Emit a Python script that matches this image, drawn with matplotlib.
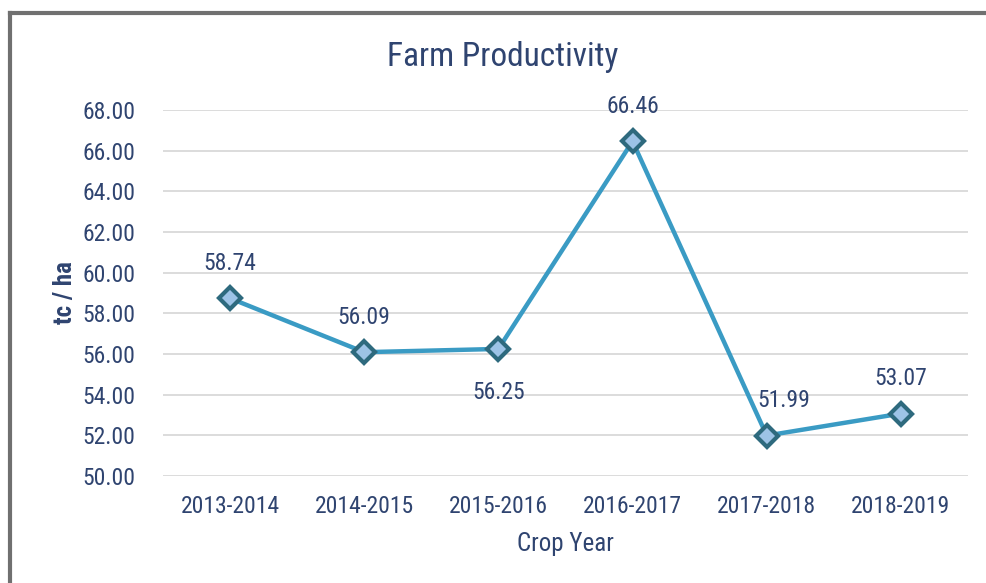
import matplotlib
matplotlib.use('Agg')
import matplotlib.pyplot as plt

years = ['2013-2014', '2014-2015', '2015-2016', '2016-2017', '2017-2018', '2018-2019']
productivity = [58.74, 56.09, 56.25, 66.46, 51.99, 53.07]
y_ticks = [50, 52, 54, 56, 58, 60, 62, 64, 66, 68]

plt.rcParams['font.family'] = ['Roboto Condensed', 'DejaVu Sans']

txt = '#2F4470'
line_c = '#3A9BC4'

fig = plt.figure(figsize=(9.86, 5.83), dpi=100)
ax = fig.add_axes([0.1653, 0.1835, 0.8164, 0.6278])

x = list(range(len(years)))
ax.plot(x, productivity, color=line_c, lw=3.2, marker='D', ms=11,
        mfc='#9DC3E6', mec='#2E6A7E', mew=3, zorder=3)

# data labels (56.25 sits below, 51.99 nudged right like the original)
for i, v in enumerate(productivity):
    dx, dy, va = 0, 17, 'bottom'
    if i == 2:
        dy, va = -23, 'top'
    if i == 4:
        dx = 12
    ax.annotate(f'{v:.2f}', (i, v), xytext=(dx, dy), textcoords='offset points',
                ha='center', va=va, fontsize=17, color=txt)

ax.set_xlim(-0.5, len(years) - 0.5)
ax.set_ylim(50, 68)
ax.set_yticks(y_ticks)
ax.set_yticklabels([f'{t:.2f}' for t in y_ticks])
ax.set_xticks(x)
ax.set_xticklabels(years)
ax.tick_params(length=0, labelsize=17, labelcolor=txt, pad=14)
ax.tick_params(axis='y', pad=20)
ax.grid(axis='y', color='#D9D9D9', lw=1.3)
ax.set_axisbelow(True)
for s in ax.spines.values():
    s.set_visible(False)

ax.set_ylabel('tc / ha', fontsize=18, color=txt, labelpad=4, fontweight='bold')
ax.set_xlabel('Crop Year', fontsize=18, color=txt, labelpad=10)
fig.text(0.51, 0.902, 'Farm Productivity', ha='center', va='center', fontsize=24, color=txt)

# outer frame: left and top gray edges
fig.add_artist(plt.Line2D([0.0105, 0.0105], [0, 0.978], color='#707070', lw=3))
fig.add_artist(plt.Line2D([0.0105, 1], [0.978, 0.978], color='#707070', lw=3))

fig.savefig('out.png', dpi=100)
